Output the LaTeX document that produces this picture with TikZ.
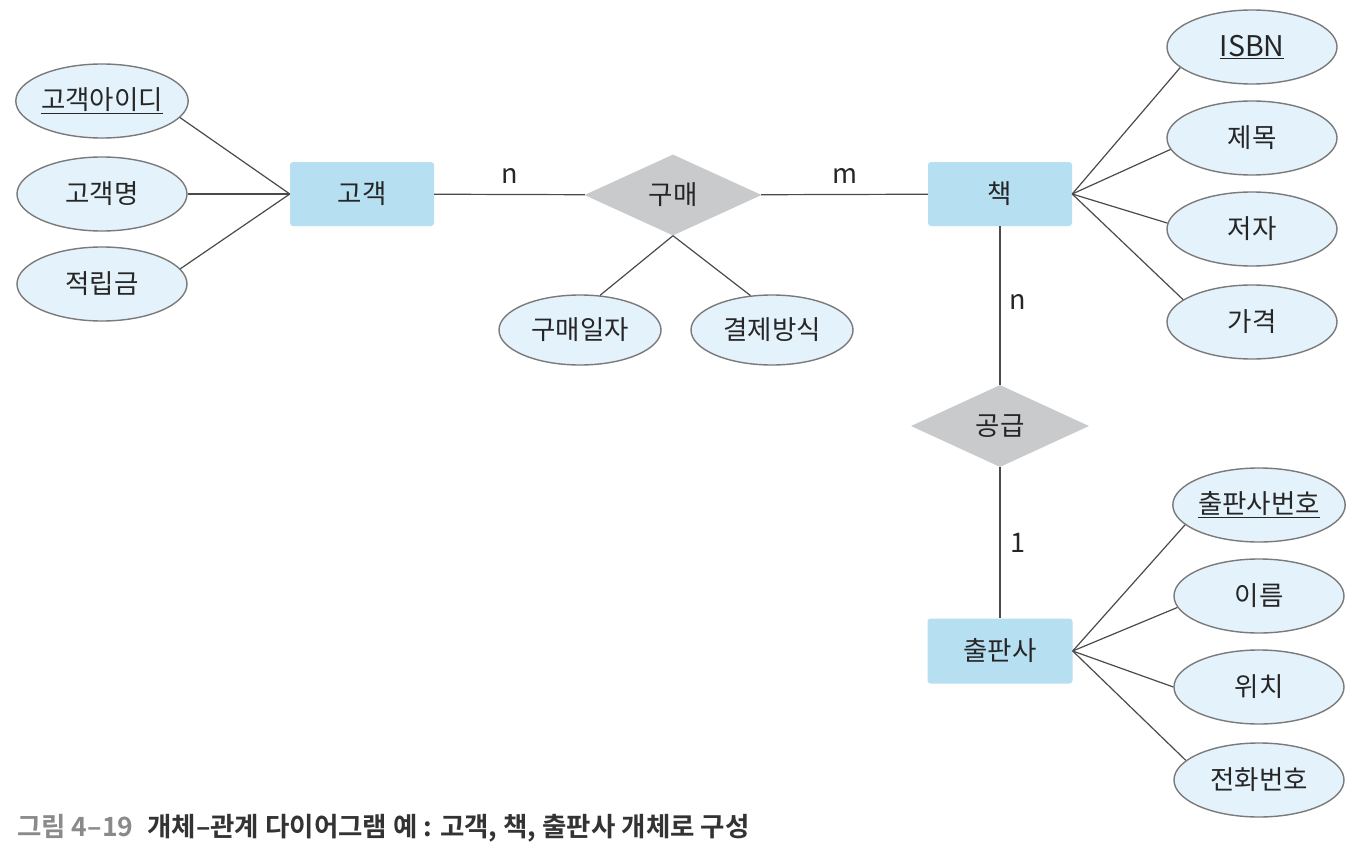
\documentclass[tikz,border=0pt]{standalone}
\usepackage{fontspec}
\setmainfont{Noto Sans CJK KR}
\newfontfamily\capfont{Noto Sans CJK KR Bold}
\usetikzlibrary{shapes.geometric}
\definecolor{attrfill}{HTML}{E4F2FB}
\definecolor{attrdraw}{HTML}{7A7A7A}
\definecolor{entfill}{HTML}{B6DFF2}
\definecolor{relfill}{HTML}{C9CACC}
\definecolor{linecol}{HTML}{4A4A4A}
\definecolor{txtcol}{HTML}{262626}
\definecolor{capgray}{HTML}{8A8A8A}
\definecolor{capdark}{HTML}{333333}
\tikzset{
  attr/.style={ellipse, draw=attrdraw, line width=1.4pt, fill=attrfill, inner sep=0pt,
    minimum width=170pt, minimum height=74pt, text=txtcol, font=\fontsize{26.5}{30}\selectfont},
  ent/.style={rectangle, rounded corners=3pt, fill=entfill, inner sep=0pt,
    minimum width=144pt, minimum height=64pt, text=txtcol, font=\fontsize{26.5}{30}\selectfont},
  rel/.style={diamond, fill=relfill, inner sep=0pt, minimum width=178pt, minimum height=82pt,
    text=txtcol, font=\fontsize{26.5}{30}\selectfont},
  conn/.style={draw=linecol, line width=1.2pt},
  card/.style={text=txtcol, inner sep=0pt, font=\fontsize{27}{30}\selectfont}
}
\begin{document}
\begin{tikzpicture}[x=1pt, y=-1pt]
\useasboundingbox[fill=white] (0,0) rectangle (1369,851);
% entities
\node[ent] (cust) at (362,194) {고객};
\node[ent] (book) at (1000,194) {책};
\node[ent, minimum width=145pt, minimum height=65pt] (pub) at (1000,651) {출판사};
% relationships
\node[rel, minimum width=177pt, minimum height=81pt] (buy) at (673,195) {구매};
\node[rel] (supply) at (1000,426) {공급};
% customer attributes
\node[attr] (a1) at (102,101) {\underline{고객아이디}};
\node[attr] (a2) at (102,194) {고객명};
\node[attr] (a3) at (102,284) {적립금};
% purchase attributes
\node[attr, minimum width=162pt, minimum height=70pt] (b1) at (580,330) {구매일자};
\node[attr, minimum width=162pt, minimum height=70pt] (b2) at (772,330) {결제방식};
% book attributes
\node[attr, font=\fontsize{28.5}{32}\selectfont] (r1) at (1252,47) {\underline{ISBN}};
\node[attr] (r2) at (1252,138) {제목};
\node[attr] (r3) at (1252,229) {저자};
\node[attr] (r4) at (1252,322) {가격};
% publisher attributes
\node[attr] (p1) at (1259,505) {\underline{출판사번호}};
\node[attr] (p2) at (1259,596) {이름};
\node[attr] (p3) at (1259,687) {위치};
\node[attr] (p4) at (1259,780) {전화번호};
% connectors
\draw[conn] (a1.348) -- (cust.west);
\draw[conn] (a2.east) -- (cust.west);
\draw[conn] (a3.11) -- (cust.west);
\draw[conn] (cust) -- (buy);
\draw[conn] (buy) -- (book);
\draw[conn] (buy.south) -- (b1.60);
\draw[conn] (buy.south) -- (b2.122);
\draw[conn] (book.east) -- (r1.196);
\draw[conn] (book.east) -- (r2.188);
\draw[conn] (book.east) -- (r3.176);
\draw[conn] (book.east) -- (r4.162);
\draw[conn] (book.south) -- (supply.north);
\draw[conn] (supply.south) -- (pub.north);
\draw[conn] (pub.east) -- (p1.195);
\draw[conn] (pub.east) -- (p2.188);
\draw[conn] (pub.east) -- (p3.180);
\draw[conn] (pub.east) -- (p4.165);
% cardinalities
\node[card] (c1) at (510,176) {n};
\node[card] (c2) at (845,176) {m};
\node[card] (c3) at (1018,302) {n};
\node[card] (c4) at (1018,543) {1};
% caption
\node[anchor=west, inner sep=0pt, font=\capfont\fontsize{26.5}{30}\selectfont] (cap) at (17,828)
  {\textcolor{capgray}{그림 4–19}\hspace{14pt}\textcolor{capdark}{개체–관계 다이어그램 예 : 고객, 책, 출판사 개체로 구성}};
\end{tikzpicture}
\end{document}
